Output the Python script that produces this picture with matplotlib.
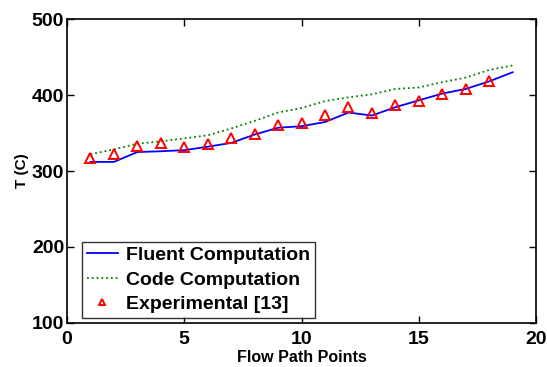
import matplotlib
matplotlib.use("Agg")
import matplotlib.pyplot as plt

plt.rcParams["font.family"] = ["Liberation Sans", "DejaVu Sans"]
plt.rcParams["font.weight"] = "bold"

x_line = list(range(1, 20))
fluent = [312, 312, 325, 326, 327.5, 332, 337, 348, 357, 359, 364.5, 377, 373,
          384, 393, 402, 408, 418, 430]
code = [322, 328.5, 336, 339, 343, 347, 356, 366, 377, 383, 392, 397, 401,
        408, 410, 417, 423, 433, 439]
x_exp = list(range(1, 19))
experimental = [317, 322, 333, 337, 332, 336, 343, 349, 360, 363, 374, 384, 377,
                387, 392, 402, 408, 418]

fig = plt.figure(figsize=(5.47, 3.67), dpi=100)
ax = fig.add_axes([0.1225, 0.12, 0.8575, 0.828])

ax.plot(x_line, fluent, color="blue", lw=1.3, label="Fluent Computation")
ax.plot(x_line, code, color="#008000", lw=1.3, ls=":", label="Code Computation")
ax.plot(x_exp, experimental, ls="none", marker="^", ms=6.5, mfc="none",
        mec="red", mew=1.4, label="Experimental [13]")

ax.set_xlim(0, 20)
ax.set_ylim(100, 500)
ax.set_xticks([0, 5, 10, 15, 20])
ax.set_yticks([100, 200, 300, 400, 500])
ax.tick_params(direction="in", top=True, right=True, labelsize=14, length=5,
               width=1)
ax.tick_params(axis="x", pad=6)
ax.tick_params(axis="y", pad=2)
for lab in ax.get_xticklabels() + ax.get_yticklabels():
    lab.set_fontweight("bold")
for s in ax.spines.values():
    s.set_linewidth(1.2)

ax.set_xlabel("Flow Path Points", fontsize=11.5, fontweight="bold", labelpad=1)
ax.set_ylabel("T (C)", fontsize=11, fontweight="bold", labelpad=2)

leg = ax.legend(loc="lower left", bbox_to_anchor=(0.032, 0.016),
                borderaxespad=0, frameon=True, fancybox=False,
                edgecolor="black", borderpad=0.25, labelspacing=0.36,
                handlelength=1.6, handletextpad=0.4, markerscale=0.75,
                prop={"weight": "bold", "size": 14})
leg.get_frame().set_linewidth(1.0)

fig.savefig("out.png", dpi=100)
